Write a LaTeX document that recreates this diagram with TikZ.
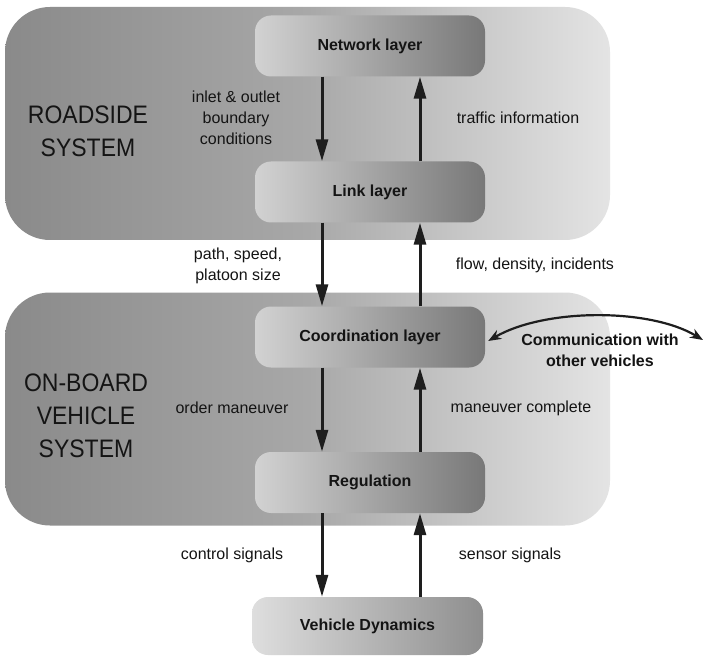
\documentclass[tikz,border=0pt]{standalone}
\usepackage{fontspec}
\setmainfont{Liberation Sans}
\usetikzlibrary{arrows.meta}
\definecolor{bgL}{HTML}{8A8A8A}
\definecolor{bgM}{HTML}{A8A8A8}
\definecolor{bgR}{HTML}{E4E4E4}
\definecolor{lyL}{HTML}{D2D2D2}
\definecolor{lyR}{HTML}{787878}
\definecolor{vdL}{HTML}{DEDEDE}
\definecolor{vdR}{HTML}{8E8E8E}
\definecolor{txt}{HTML}{141414}
\definecolor{arrc}{HTML}{1E1E1E}
\begin{document}
\begin{tikzpicture}[x=1pt,y=-1pt,
  bigbox/.style={rounded corners=45pt, left color=bgL, right color=bgR, middle color=bgM, draw=none, inner sep=0pt, minimum width=605pt, minimum height=233pt},
  layer/.style={rounded corners=16pt, left color=lyL, right color=lyR, draw=none, minimum width=230pt, minimum height=61pt, font=\fontsize{16}{19}\selectfont\bfseries, text=txt},
  vdbox/.style={rounded corners=16pt, left color=vdL, right color=vdR, draw=none, minimum width=231pt, minimum height=58pt, font=\fontsize{16}{19}\selectfont\bfseries, text=txt},
  lbl/.style={font=\fontsize{16}{21}\selectfont, align=center, text=txt},
  sys/.style={font=\fontsize{23}{30}\selectfont, align=center, text=txt, yscale=1.1},
  arr/.style={line width=3pt, draw=arrc, -{Triangle[length=22pt,width=12pt]}},
  commarr/.style={line width=2.2pt, draw=arrc, {Stealth[length=13pt,width=10pt]}-{Stealth[length=13pt,width=10pt]}},
]
\useasboundingbox (0,0) rectangle (705,658);
\fill[white] (0,0) rectangle (705,658);

% system boxes
\node[bigbox] (road) at (307.5,123.5) {};
\node[bigbox] (board) at (307.5,409) {};

% layers
\node[layer] (net) at (370,46) {Network layer};
\node[layer] (link) at (370,192) {Link layer};
\node[layer] (coord) at (370,337) {Coordination layer};
\node[layer] (reg) at (370,482.5) {Regulation};
\node[vdbox] (vd) at (367.5,626) {Vehicle Dynamics};

% system titles
\node[sys] (roadt) at (88,131) {ROADSIDE\\SYSTEM};
\node[sys] (boardt) at (86,416) {ON-BOARD\\VEHICLE\\SYSTEM};

% arrows
\draw[arr] ([xshift=-48pt]net.south) -- ([xshift=-48pt]link.north);
\draw[arr] ([xshift=50pt]link.north) -- ([xshift=50pt]net.south);
\draw[arr] ([xshift=-48pt]link.south) -- ([xshift=-48pt]coord.north);
\draw[arr] ([xshift=50pt]coord.north) -- ([xshift=50pt]link.south);
\draw[arr] ([xshift=-48pt]coord.south) -- ([xshift=-48pt]reg.north);
\draw[arr] ([xshift=50pt]reg.north) -- ([xshift=50pt]coord.south);
\draw[arr] ([xshift=-48pt]reg.south) -- ([xshift=-45.5pt]vd.north);
\draw[arr] ([xshift=52.5pt]vd.north) -- ([xshift=50pt]reg.south);

% communication
\coordinate (cend) at (703,340);
\draw[commarr] ([xshift=3pt,yshift=-4pt]coord.east) .. controls (545,308) and (650,308) .. (cend);

% labels
\node[lbl] (l1) at (236,118) {inlet \& outlet\\boundary\\conditions};
\node[lbl] (l2) at (518,118) {traffic information};
\node[lbl] (l3) at (238,266) {path, speed,\\platoon size};
\node[lbl] (l4) at (535,265) {flow, density, incidents};
\node[lbl,font=\fontsize{16}{21}\selectfont\bfseries] (l5) at (600,350) {Communication with\\other vehicles};
\node[lbl] (l6) at (232,408) {order maneuver};
\node[lbl] (l7) at (521,408) {maneuver complete};
\node[lbl] (l8) at (232,555) {control signals};
\node[lbl] (l9) at (510,555) {sensor signals};
\end{tikzpicture}
\end{document}
